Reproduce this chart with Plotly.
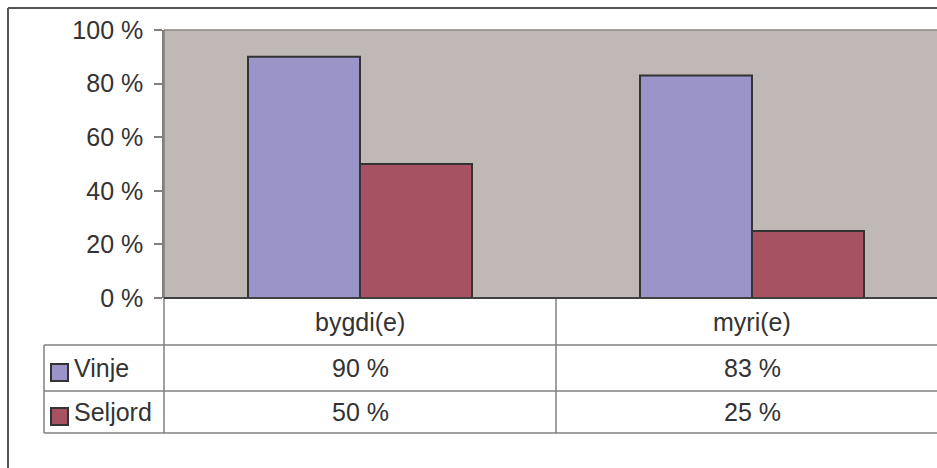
import plotly.graph_objects as go

categories = ["bygdi(e)", "myri(e)"]
series_names = ["Vinje", "Seljord"]
vinje = [90, 83]
seljord = [50, 25]
y_ticks = [0, 20, 40, 60, 80, 100]

W, H = 937, 468
PL, PT, PB = 164, 30, 298   # plot area px
CAT_W = 392
ROW_Y = [298, 345, 391, 433]
TABLE_LEFT = 44
FONT = "Liberation Sans, Arial, sans-serif"
FS = 25
TXT = "#333333"
GRID = "#808080"
colors = ["#9A94C8", "#A65262"]

def px(x):
    return x / W

def py(y):
    return 1 - y / H

fig = go.Figure()
for name, vals, col in zip(series_names, [vinje, seljord], colors):
    fig.add_trace(go.Bar(x=categories, y=vals, name=name, marker_color=col,
                         marker_line_color="#333333", marker_line_width=2))

xmax = (W - PL) / CAT_W - 0.5

shapes = []
# outer chart border
shapes.append(dict(type="line", xref="paper", yref="paper", x0=px(8), x1=px(8), y0=py(8), y1=py(H + 5),
                   line=dict(color="#555555", width=2)))
shapes.append(dict(type="line", xref="paper", yref="paper", x0=px(8), x1=px(W + 5), y0=py(8), y1=py(8),
                   line=dict(color="#555555", width=2)))
# plot top border
shapes.append(dict(type="line", xref="paper", yref="paper", x0=px(PL), x1=px(W + 5), y0=py(PT), y1=py(PT),
                   line=dict(color="#8C8480", width=1.5)))
# table horizontal lines
for y in ROW_Y[1:]:
    shapes.append(dict(type="line", xref="paper", yref="paper", x0=px(TABLE_LEFT), x1=px(W + 5),
                       y0=py(y), y1=py(y), line=dict(color=GRID, width=1.5)))
# table vertical lines
shapes.append(dict(type="line", xref="paper", yref="paper", x0=px(PL), x1=px(PL),
                   y0=py(PT), y1=py(ROW_Y[-1]), line=dict(color=GRID, width=1.5)))
shapes.append(dict(type="line", xref="paper", yref="paper", x0=px(PL + CAT_W), x1=px(PL + CAT_W),
                   y0=py(PB), y1=py(ROW_Y[-1]), line=dict(color=GRID, width=1.5)))
shapes.append(dict(type="line", xref="paper", yref="paper", x0=px(TABLE_LEFT), x1=px(TABLE_LEFT),
                   y0=py(ROW_Y[1]), y1=py(ROW_Y[-1]), line=dict(color=GRID, width=1.5)))
# x axis line (dark)
shapes.append(dict(type="line", xref="paper", yref="paper", x0=px(PL), x1=px(W + 5), y0=py(PB), y1=py(PB),
                   line=dict(color="#404040", width=2)))

annotations = []
# category headers
for i, c in enumerate(categories):
    cx = PL + CAT_W * (i + 0.5)
    annotations.append(dict(x=px(cx), y=py((ROW_Y[0] + ROW_Y[1]) / 2), xref="paper", yref="paper",
                            text=c, showarrow=False, font=dict(family=FONT, size=FS, color=TXT),
                            xanchor="center", yanchor="middle"))
# rows
for r, (name, vals, col) in enumerate(zip(series_names, [vinje, seljord], colors)):
    yc = (ROW_Y[r + 1] + ROW_Y[r + 2]) / 2
    shapes.append(dict(type="rect", xref="paper", yref="paper", x0=px(51), x1=px(68),
                       y0=py(yc - 4), y1=py(yc + 13), fillcolor=col,
                       line=dict(color="#333333", width=2)))
    annotations.append(dict(x=px(72), y=py(yc), xref="paper", yref="paper", text=name,
                            showarrow=False, font=dict(family=FONT, size=FS, color=TXT),
                            xanchor="left", yanchor="middle"))
    for i, v in enumerate(vals):
        cx = PL + CAT_W * (i + 0.5)
        annotations.append(dict(x=px(cx), y=py(yc), xref="paper", yref="paper", text=f"{v} %",
                                showarrow=False, font=dict(family=FONT, size=FS, color=TXT),
                                xanchor="center", yanchor="middle"))

fig.update_layout(
    width=W, height=H, margin=dict(l=0, r=0, t=0, b=0, pad=0),
    paper_bgcolor="white", plot_bgcolor="#C0B8B5",
    barmode="group", bargap=1 - 224 / CAT_W, bargroupgap=0,
    showlegend=False,
    xaxis=dict(domain=[px(PL), 1], range=[-0.5, xmax], showticklabels=False, ticks="",
               showgrid=False, zeroline=False, showline=False, fixedrange=True, automargin=False),
    yaxis=dict(domain=[py(PB), py(PT)], range=[0, 100], tickvals=y_ticks,
               ticktext=[f"{t} %" for t in y_ticks], ticks="outside", ticklen=8,
               tickcolor=GRID, tickwidth=1.5, showline=True, linecolor=GRID, linewidth=1.5,
               showgrid=False, zeroline=False, ticklabelstandoff=6, automargin=False,
               tickfont=dict(family=FONT, size=FS, color=TXT)),
    shapes=shapes, annotations=annotations,
)

fig.write_html("out.html")
